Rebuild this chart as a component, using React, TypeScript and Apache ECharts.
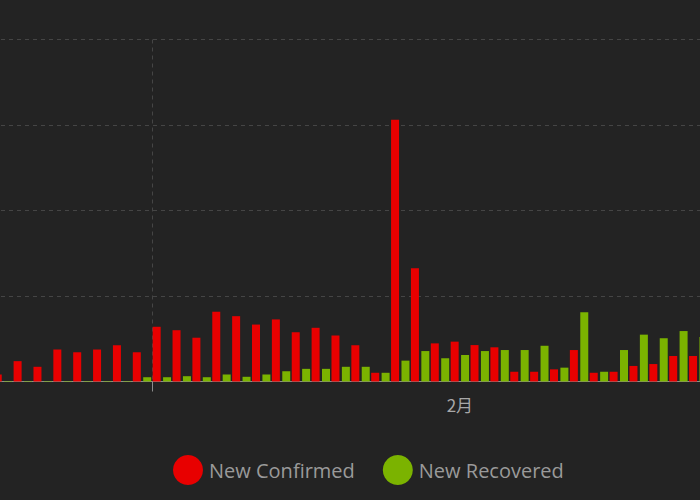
import { useEffect, useRef } from 'react';
import * as echarts from 'echarts';

// Daily report dates shown on the category axis
const days = [
  '2020-01-09', '2020-01-10', '2020-01-11', '2020-01-12', '2020-01-13', '2020-01-14',
  '2020-01-15', '2020-01-16', '2020-01-17', '2020-01-18', '2020-01-19', '2020-01-20',
  '2020-01-21', '2020-01-22', '2020-01-23', '2020-01-24', '2020-01-25', '2020-01-26',
  '2020-01-27', '2020-01-28', '2020-01-29', '2020-01-30', '2020-01-31', '2020-02-01',
  '2020-02-02', '2020-02-03', '2020-02-04', '2020-02-05', '2020-02-06', '2020-02-07',
  '2020-02-08', '2020-02-09', '2020-02-10', '2020-02-11', '2020-02-12', '2020-02-13',
];

const newConfirmed = [
  410, 1190, 860, 1870, 1710, 1870, 2120, 1710, 3200, 3000, 2560, 4080,
  3820, 3330, 3630, 2880, 3140, 2690, 2120, 510, 15300, 6620, 2230, 2330,
  2130, 2000, 570, 570, 710, 1840, 510, 570, 910, 1020, 1490, 1490,
];

const newRecovered = [
  30, 30, 30, 30, 30, 30, 30, 250, 250, 310, 250, 410,
  275, 410, 600, 740, 740, 860, 860, 510, 1220, 1780, 1360, 1550,
  1780, 1840, 1840, 2090, 810, 4050, 570, 1840, 2740, 2530, 2950, 2600,
];

const seriesNames = ['New Confirmed', 'New Recovered'];

// Day whose left edge gets the vertical dashed marker line
const markedDay = '2020-01-17';

export default function App() {
  const ref = useRef<HTMLDivElement>(null);

  useEffect(() => {
    if (!ref.current) return;
    const chart = echarts.init(ref.current, null, { renderer: 'svg' });
    const markIndex = days.indexOf(markedDay);
    // the first band edge is kept too, so the on-band tick layout has two anchors
    const onMarker = (i: number) => i === 0 || i === markIndex;
    const gridLine = { color: '#454545', width: 1, type: [4, 4] as number[] };

    chart.setOption({
      animation: false,
      backgroundColor: '#232323',
      grid: { left: 3, right: 1.8, top: 39.5, bottom: 118.5, containLabel: false },
      legend: {
        data: seriesNames,
        icon: 'circle',
        left: 183,
        top: 455,
        padding: 0,
        itemWidth: 30,
        itemHeight: 30,
        itemGap: 28,
        textStyle: {
          color: '#9a9a9a',
          fontSize: 20,
          fontFamily: '"Open Sans", "Noto Sans", sans-serif',
          padding: [0, 0, 0, 1],
        },
      },
      xAxis: {
        type: 'category',
        data: days,
        boundaryGap: true,
        axisLine: { show: true, lineStyle: { color: '#8c8c8c', width: 1 } },
        axisTick: {
          show: true,
          length: 10,
          interval: onMarker,
          lineStyle: { color: '#8c8c8c' },
        },
        splitLine: {
          show: true,
          interval: onMarker,
          lineStyle: gridLine,
        },
        axisLabel: {
          interval: (_i: number, v: string) => v.endsWith('-01'),
          formatter: (v: string) => `${Number(v.slice(5, 7))}月`,
          color: '#a8a8a8',
          fontSize: 17,
          margin: 14,
          fontFamily: '"Noto Sans CJK SC", "Open Sans", sans-serif',
        },
      },
      yAxis: {
        type: 'value',
        min: 0,
        max: 20000,
        interval: 5000,
        axisLabel: { show: false },
        axisLine: { show: false },
        axisTick: { show: false },
        splitLine: { show: true, lineStyle: gridLine },
      },
      series: [
        {
          name: seriesNames[0],
          type: 'bar',
          data: newConfirmed,
          barWidth: 8,
          barGap: '30%',
          itemStyle: { color: '#e80000' },
        },
        {
          name: seriesNames[1],
          type: 'bar',
          data: newRecovered,
          barWidth: 8,
          itemStyle: { color: '#7bb300' },
        },
      ],
    });

    return () => chart.dispose();
  }, []);

  return (
    <div
      style={{
        position: 'fixed',
        left: 0,
        top: 0,
        width: 700,
        height: 500,
        overflow: 'hidden',
        background: '#232323',
      }}
    >
      <div ref={ref} style={{ position: 'absolute', left: -10, top: 0, width: 720, height: 500 }} />
    </div>
  );
}
